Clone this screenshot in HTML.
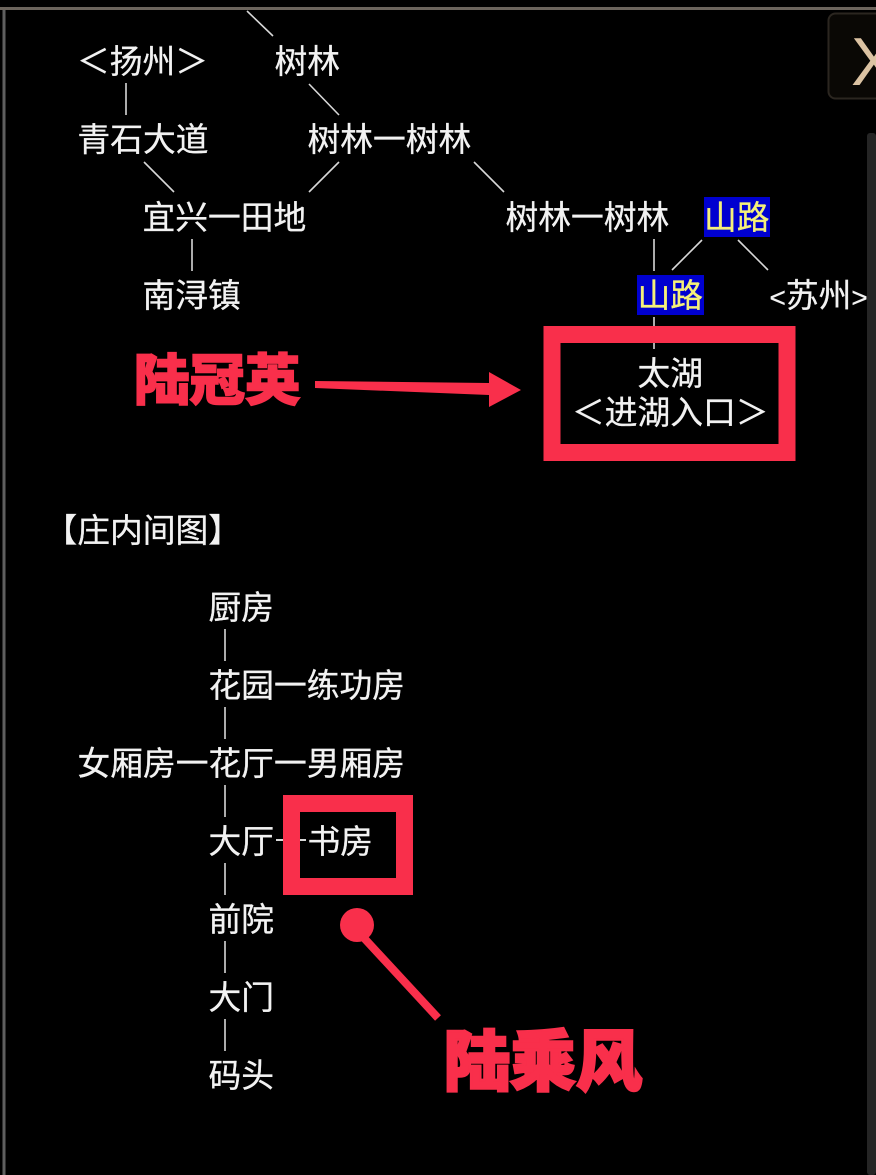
<!DOCTYPE html>
<html><head><meta charset="utf-8">
<style>
html,body{margin:0;padding:0;background:#000;width:876px;height:1175px;overflow:hidden}
svg{display:block}
.t{font-family:"Liberation Sans","WenQuanYi Zen Hei","Noto Sans CJK SC",sans-serif;font-size:32.75px;fill:#f2f2f2;stroke:#f2f2f2;stroke-width:.3}
.y{fill:#f5f07a;stroke:#f5f07a}
.b{font-family:"Liberation Sans","Noto Sans CJK SC",sans-serif;font-weight:900;fill:#f92f4b;stroke:#f92f4b}
line.c{stroke:#d8d8d8;stroke-width:1.6}
</style></head><body>
<svg width="876" height="1175" viewBox="0 0 876 1175" xmlns="http://www.w3.org/2000/svg">
<rect width="876" height="1175" fill="#000"/>
<rect x="0" y="7" width="876" height="3" fill="#6b645c"/>
<rect x="2.500" y="10" width="3" height="1165" fill="#5f5f5f"/>
<rect x="867" y="133" width="9" height="1042" rx="3" fill="#252525"/>
<rect x="828.5" y="13.5" width="60" height="85" rx="7" fill="#0a0805" stroke="#2b2620" stroke-width="2"/>
<text x="851" y="85" style="font-family:'Liberation Sans',sans-serif;font-size:68px;fill:#dcc3a3">X</text>

<g>
<line class="c" x1="247" y1="11" x2="273" y2="36"/>
<line class="c" x1="126" y1="83" x2="126" y2="115"/>
<line class="c" x1="309" y1="84" x2="339" y2="115"/>
<line class="c" x1="144" y1="162" x2="174" y2="192"/>
<line class="c" x1="339" y1="162" x2="309" y2="192"/>
<line class="c" x1="474" y1="162" x2="504" y2="192"/>
<line class="c" x1="192" y1="239" x2="192" y2="271"/>
<line class="c" x1="654" y1="239" x2="654" y2="271"/>
<line class="c" x1="702" y1="240" x2="672" y2="270"/>
<line class="c" x1="738" y1="240" x2="768" y2="270"/>
<line class="c" x1="654" y1="317" x2="654" y2="349"/>
<line class="c" x1="225" y1="629" x2="225" y2="661"/>
<line class="c" x1="225" y1="707" x2="225" y2="739"/>
<line class="c" x1="225" y1="785" x2="225" y2="817"/>
<line class="c" x1="225" y1="863" x2="225" y2="895"/>
<line class="c" x1="225" y1="941" x2="225" y2="973"/>
<line class="c" x1="225" y1="1019" x2="225" y2="1051"/>
<line class="c" x1="276" y1="840" x2="306" y2="840" style="stroke-width:2"/>
</g>

<rect x="704" y="197" width="66" height="40" fill="#0000d0"/>
<rect x="637" y="275" width="67" height="40" fill="#0000d0"/>

<g>
<text class="t" x="77" y="73">＜扬州＞</text>
<text class="t" x="274.500" y="73">树林</text>
<text class="t" x="77.500" y="151">青石大道</text>
<text class="t" x="307.500" y="151">树林一树林</text>
<text class="t" x="142.500" y="229">宜兴一田地</text>
<text class="t" x="505.500" y="229">树林一树林</text>
<text class="t y" x="704" y="229">山路</text>
<text class="t" x="142.500" y="307">南浔镇</text>
<text class="t y" x="637.500" y="307">山路</text>
<text class="t" x="769.500" y="307"><tspan font-size="28">&lt;</tspan>苏州<tspan font-size="28">&gt;</tspan></text>
<text class="t" x="637.500" y="385">太湖</text>
<text class="t" x="572" y="424">＜进湖入口＞</text>
<text class="t" x="44.500" y="542">【庄内间图】</text>
<text class="t" x="208.500" y="619">厨房</text>
<text class="t" x="208.500" y="697">花园一练功房</text>
<text class="t" x="77.500" y="775">女厢房一花厅一男厢房</text>
<text class="t" x="208.500" y="853">大厅</text>
<text class="t" x="307.500" y="853">书房</text>
<text class="t" x="208.500" y="931">前院</text>
<text class="t" x="208.500" y="1009">大门</text>
<text class="t" x="208.500" y="1087">码头</text>
</g>

<rect x="552" y="334.500" width="235" height="118" fill="none" stroke="#f92f4b" stroke-width="17"/>
<rect x="291.500" y="803.500" width="113" height="83" fill="none" stroke="#f92f4b" stroke-width="17"/>

<polygon points="315,381 489,383 489,372 521,390 489,407 489,395 315,388" fill="#f92f4b"/>
<circle cx="357" cy="925" r="17" fill="#f92f4b"/>
<line x1="364" y1="938" x2="438" y2="1018" stroke="#f92f4b" stroke-width="8"/>

<text class="b" x="134" y="400" font-size="55.500" stroke-width="1.5">陆冠英</text>
<text class="b" x="444" y="1085" font-size="66" stroke-width="2.5">陆乘风</text>
</svg>
</body></html>
